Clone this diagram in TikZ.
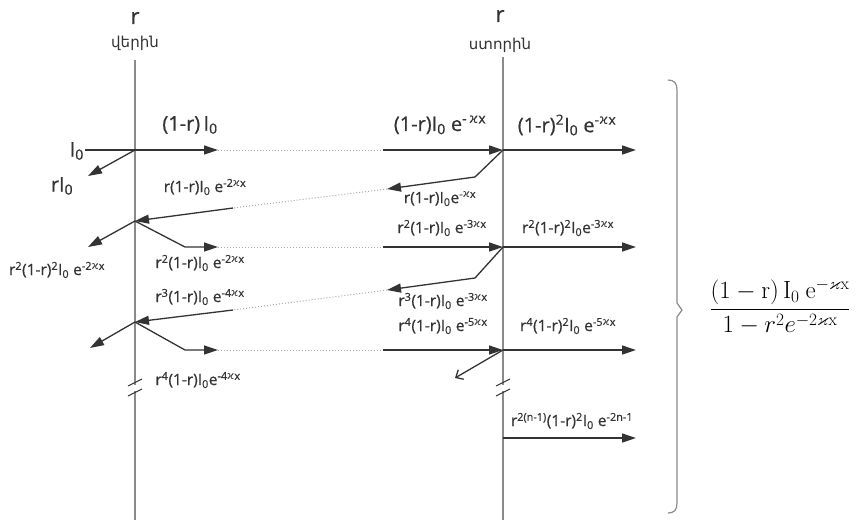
\documentclass[tikz,border=0pt]{standalone}
\usepackage{amsmath,amssymb}
\usepackage[no-math]{fontspec}
\setmainfont{Open Sans}
\newfontfamily\labfont{Open Sans}[FakeBold=0.6]
\newfontfamily\armfont{DejaVu Sans}
\newfontfamily\grkfont{DejaVu Sans}
\usetikzlibrary{arrows.meta}
\definecolor{vgray}{HTML}{8A8A8A}
\definecolor{dgray}{HTML}{333333}
\definecolor{lgray}{HTML}{A8A8A8}
\newcommand{\kx}{{\grkfont ϰ}x}
\newcommand{\Iz}{I\textsubscript{0}}
\newcommand{\sups}[1]{\textsuperscript{#1}}
\begin{document}
\begin{tikzpicture}[x=1pt,y=-1pt,
  vline/.style={draw=vgray,line width=1.8pt},
  ray/.style={draw=dgray,line width=1.3pt},
  arr/.style={ray,-{Triangle[length=14pt,width=9pt]}},
  barb/.style={ray,-{Straight Barb[length=6pt,width=11pt]}},
  dots/.style={draw=lgray,line width=1pt,dotted},
  lab/.style={inner sep=0pt,text=dgray,font=\labfont\fontsize{15.5}{17}\selectfont},
  biglab/.style={inner sep=0pt,text=dgray,font=\labfont\fontsize{20}{24}\selectfont},
  slash/.style={draw=dgray,line width=1pt}]
\useasboundingbox (0,0) rectangle (858,520);
\fill[white] (0,0) rectangle (858,520);
% vertical mirrors
\coordinate (LT) at (135,60);  \coordinate (LB1) at (135,385);
\coordinate (LB2) at (135,391); \coordinate (LE) at (135,520);
\coordinate (RT) at (503,57);  \coordinate (RB1) at (503,385);
\coordinate (RB2) at (503,391); \coordinate (RE) at (503,520);
\draw[vline] (LT) -- (LB1);
\draw[vline] (LB2) -- (LE);
\draw[vline] (RT) -- (RB1);
\draw[vline] (RB2) -- (RE);
\draw[slash] (128,386) -- (142,379);
\draw[slash] (128,396) -- (142,389);
\draw[slash] (496,386) -- (510,379);
\draw[slash] (496,396) -- (510,389);
% headers
\node[inner sep=0pt,text=dgray,font=\labfont\fontsize{22}{24}\selectfont] (rl) at (135,18) {r};
\node[inner sep=0pt,text=dgray,font=\armfont\fontsize{15}{17}\selectfont] (vl) at (135,43) {վերին};
\node[inner sep=0pt,text=dgray,font=\labfont\fontsize{22}{24}\selectfont] (rr) at (500,16) {r};
\node[inner sep=0pt,text=dgray,font=\armfont\fontsize{15}{17}\selectfont] (vr) at (500,45) {ստորին};
% junctions
\coordinate (L1) at (135,150); \coordinate (L2) at (135,221); \coordinate (L3) at (135,322);
\coordinate (R1) at (503,150); \coordinate (R2) at (503,247); \coordinate (R3) at (503,350);
\coordinate (R4) at (503,438);
% row 1
\coordinate (in) at (85,150);
\coordinate (a1) at (218,150); \coordinate (b1) at (383,150); \coordinate (t1) at (636,150);
\coordinate (rl1) at (88,176);
\coordinate (k1) at (475,177); \coordinate (c1) at (387,189); \coordinate (d1) at (233,208);
\draw[arr] (in) -- (a1);
\draw[dots] (a1) -- (b1);
\draw[arr] (b1) -- (R1);
\draw[arr] (R1) -- (t1);
\draw[arr] (L1) -- (rl1);
\draw[arr] (R1) -- (k1) -- (c1);
\draw[dots] (c1) -- (d1);
\draw[arr] (d1) -- (L2);
% row 2
\coordinate (rl2) at (88,247);
\coordinate (k2) at (185,247); \coordinate (a2) at (218,247); \coordinate (b2) at (383,247);
\coordinate (t2) at (636,247);
\coordinate (k3) at (475,278); \coordinate (c2) at (387,290); \coordinate (d2) at (233,310);
\draw[arr] (L2) -- (rl2);
\draw[arr] (L2) -- (k2) -- (a2);
\draw[dots] (a2) -- (b2);
\draw[arr] (b2) -- (R2);
\draw[arr] (R2) -- (t2);
\draw[arr] (R2) -- (k3) -- (c2);
\draw[dots] (c2) -- (d2);
\draw[arr] (d2) -- (L3);
% row 3
\coordinate (rl3) at (90,348);
\coordinate (k4) at (185,350); \coordinate (a3) at (218,350); \coordinate (b3) at (383,350);
\coordinate (t3) at (636,350); \coordinate (rr3) at (455,378);
\draw[arr] (L3) -- (rl3);
\draw[arr] (L3) -- (k4) -- (a3);
\draw[dots] (a3) -- (b3);
\draw[arr] (b3) -- (R3);
\draw[arr] (R3) -- (t3);
\draw[barb] (R3) -- (rr3);
% row n
\coordinate (t4) at (636,438);
\draw[arr] (R4) -- (t4);
% labels
\node[biglab,anchor=east] (l0) at (84,151) {\Iz};
\node[biglab] (l1) at (62,186) {r\Iz};
\node[biglab] (l2) at (190,125) {(1-r)\,\Iz};
\node[biglab] (l3) at (440,125) {(1-r)\Iz{} e\sups{-\,\kx}};
\node[biglab] (l4) at (567,125) {(1-r)\sups{2}\Iz{} e\sups{-\kx}};
\node[lab] (l5) at (205,187) {r(1-r)\Iz{} e\sups{-2\kx}};
\node[lab] (l6) at (440,199) {r(1-r)\Iz{}e\sups{-\kx}};
\node[lab] (l7) at (57,270) {r\sups{2}(1-r)\sups{2}\Iz{} e\sups{-2\kx}};
\node[lab] (l8) at (442,228) {r\sups{2}(1-r)\Iz{} e\sups{-3\kx}};
\node[lab] (l9) at (568,228) {r\sups{2}(1-r)\sups{2}\Iz{}e\sups{-3\kx}};
\node[lab] (l10) at (200,263) {r\sups{2}(1-r)\Iz{} e\sups{-2\kx}};
\node[lab] (l11) at (200,297) {r\sups{3}(1-r)\Iz{} e\sups{-4\kx}};
\node[lab] (l12) at (443,301) {r\sups{3}(1-r)\Iz{} e\sups{-3\kx}};
\node[lab] (l13) at (443,326) {r\sups{4}(1-r)\Iz{} e\sups{-5\kx}};
\node[lab] (l14) at (568,326) {r\sups{4}(1-r)\sups{2}\Iz{} e\sups{-5\kx}};
\node[lab] (l15) at (198,380) {r\sups{4}(1-r)\Iz{}e\sups{-4\kx}};
\node[lab] (l16) at (572,421) {r\sups{2(n-1)}(1-r)\sups{2}\Iz{} e\sups{-2n-1}};
% brace
\draw[draw=vgray,line width=1.2pt] (668,80) .. controls (674,80) and (677,83) .. (677,90)
  -- (677,303) -- (682,310) -- (677,317) -- (677,503)
  .. controls (677,510) and (674,513) .. (668,513);
% result
\node[inner sep=0pt,text=black,font=\fontsize{23}{27}\selectfont] (res) at (780,307)
  {$\dfrac{(1-\mathrm{r})\,\mathrm{I}_0\ \mathrm{e}^{-\varkappa\mathrm{x}}}{1-r^2e^{-2\varkappa\mathrm{x}}}$};
\end{tikzpicture}
\end{document}
